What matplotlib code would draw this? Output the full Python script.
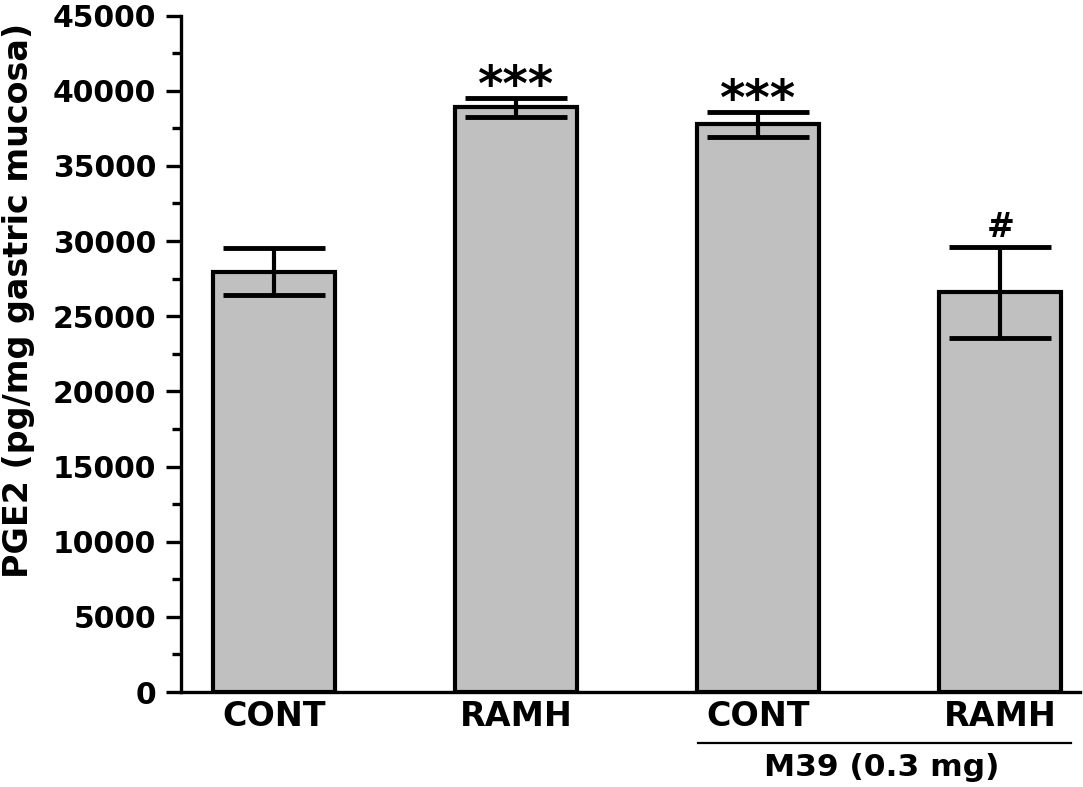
import matplotlib
matplotlib.use("Agg")
import matplotlib.pyplot as plt
from matplotlib.ticker import MultipleLocator

# ── 데이터 ──
groups = ["CONT", "RAMH", "CONT", "RAMH"]
means = [27950, 38900, 37750, 26580]
errs = [1570, 630, 800, 3030]
marks = ["", "***", "***", "#"]
bracket_label = "M39 (0.3 mg)"
ylabel = "PGE2 (pg/mg gastric mucosa)"

plt.rcParams["font.family"] = ["DejaVu Sans"]
plt.rcParams["font.weight"] = "bold"

fig = plt.figure(figsize=(10.83, 7.87), dpi=100)
ax = fig.add_axes([0.1671, 0.1207, 0.830, 0.8596])

x = list(range(len(groups)))
width = 0.504
ax.bar(x, means, width=width, color="#C0C0C0", edgecolor="black",
       linewidth=3, zorder=2)
ax.errorbar(x, means, yerr=errs, fmt="none", ecolor="black",
            elinewidth=3, capsize=37, capthick=3.5, zorder=3)

# 유의성 표시
for xi, m, e, s in zip(x, means, errs, marks):
    if not s:
        continue
    if s.startswith("*"):
        size, off = 35, 8
    else:
        size, off = 24, 14
    ax.annotate(s, xy=(xi, m + e), xytext=(0, off), textcoords="offset points",
                ha="center", va="center", fontsize=size, fontweight="bold")

# 축 스타일
ax.set_xlim(-0.384, 3.328)
ax.set_ylim(0, 45000)
ax.spines[["top", "right"]].set_visible(False)
for side in ["left", "bottom"]:
    ax.spines[side].set_linewidth(2.4)

ax.yaxis.set_major_locator(MultipleLocator(5000))
ax.yaxis.set_minor_locator(MultipleLocator(2500))
ax.tick_params(axis="y", which="major", length=11, width=2.4, pad=7,
               labelsize=21.5)
ax.tick_params(axis="y", which="minor", length=6.5, width=2.4)
ax.set_xticks(x)
ax.set_xticklabels(groups, fontsize=24, fontweight="bold")
ax.tick_params(axis="x", length=0, pad=6)
for lbl in ax.get_yticklabels():
    lbl.set_fontweight("bold")

ax.text(-0.181, 0.579, ylabel, transform=ax.transAxes, rotation=90,
        ha="center", va="center", fontsize=24, fontweight="bold")

# M39 브래킷
trans = ax.get_xaxis_transform()
ax.plot([1.75, 3.29], [-0.0754, -0.0754], color="black", linewidth=1.6,
        transform=trans, clip_on=False)
ax.text(2.51, -0.111, bracket_label, transform=trans, ha="center",
        va="center", fontsize=22.5, fontweight="bold")

fig.savefig("out.png", dpi=100)
